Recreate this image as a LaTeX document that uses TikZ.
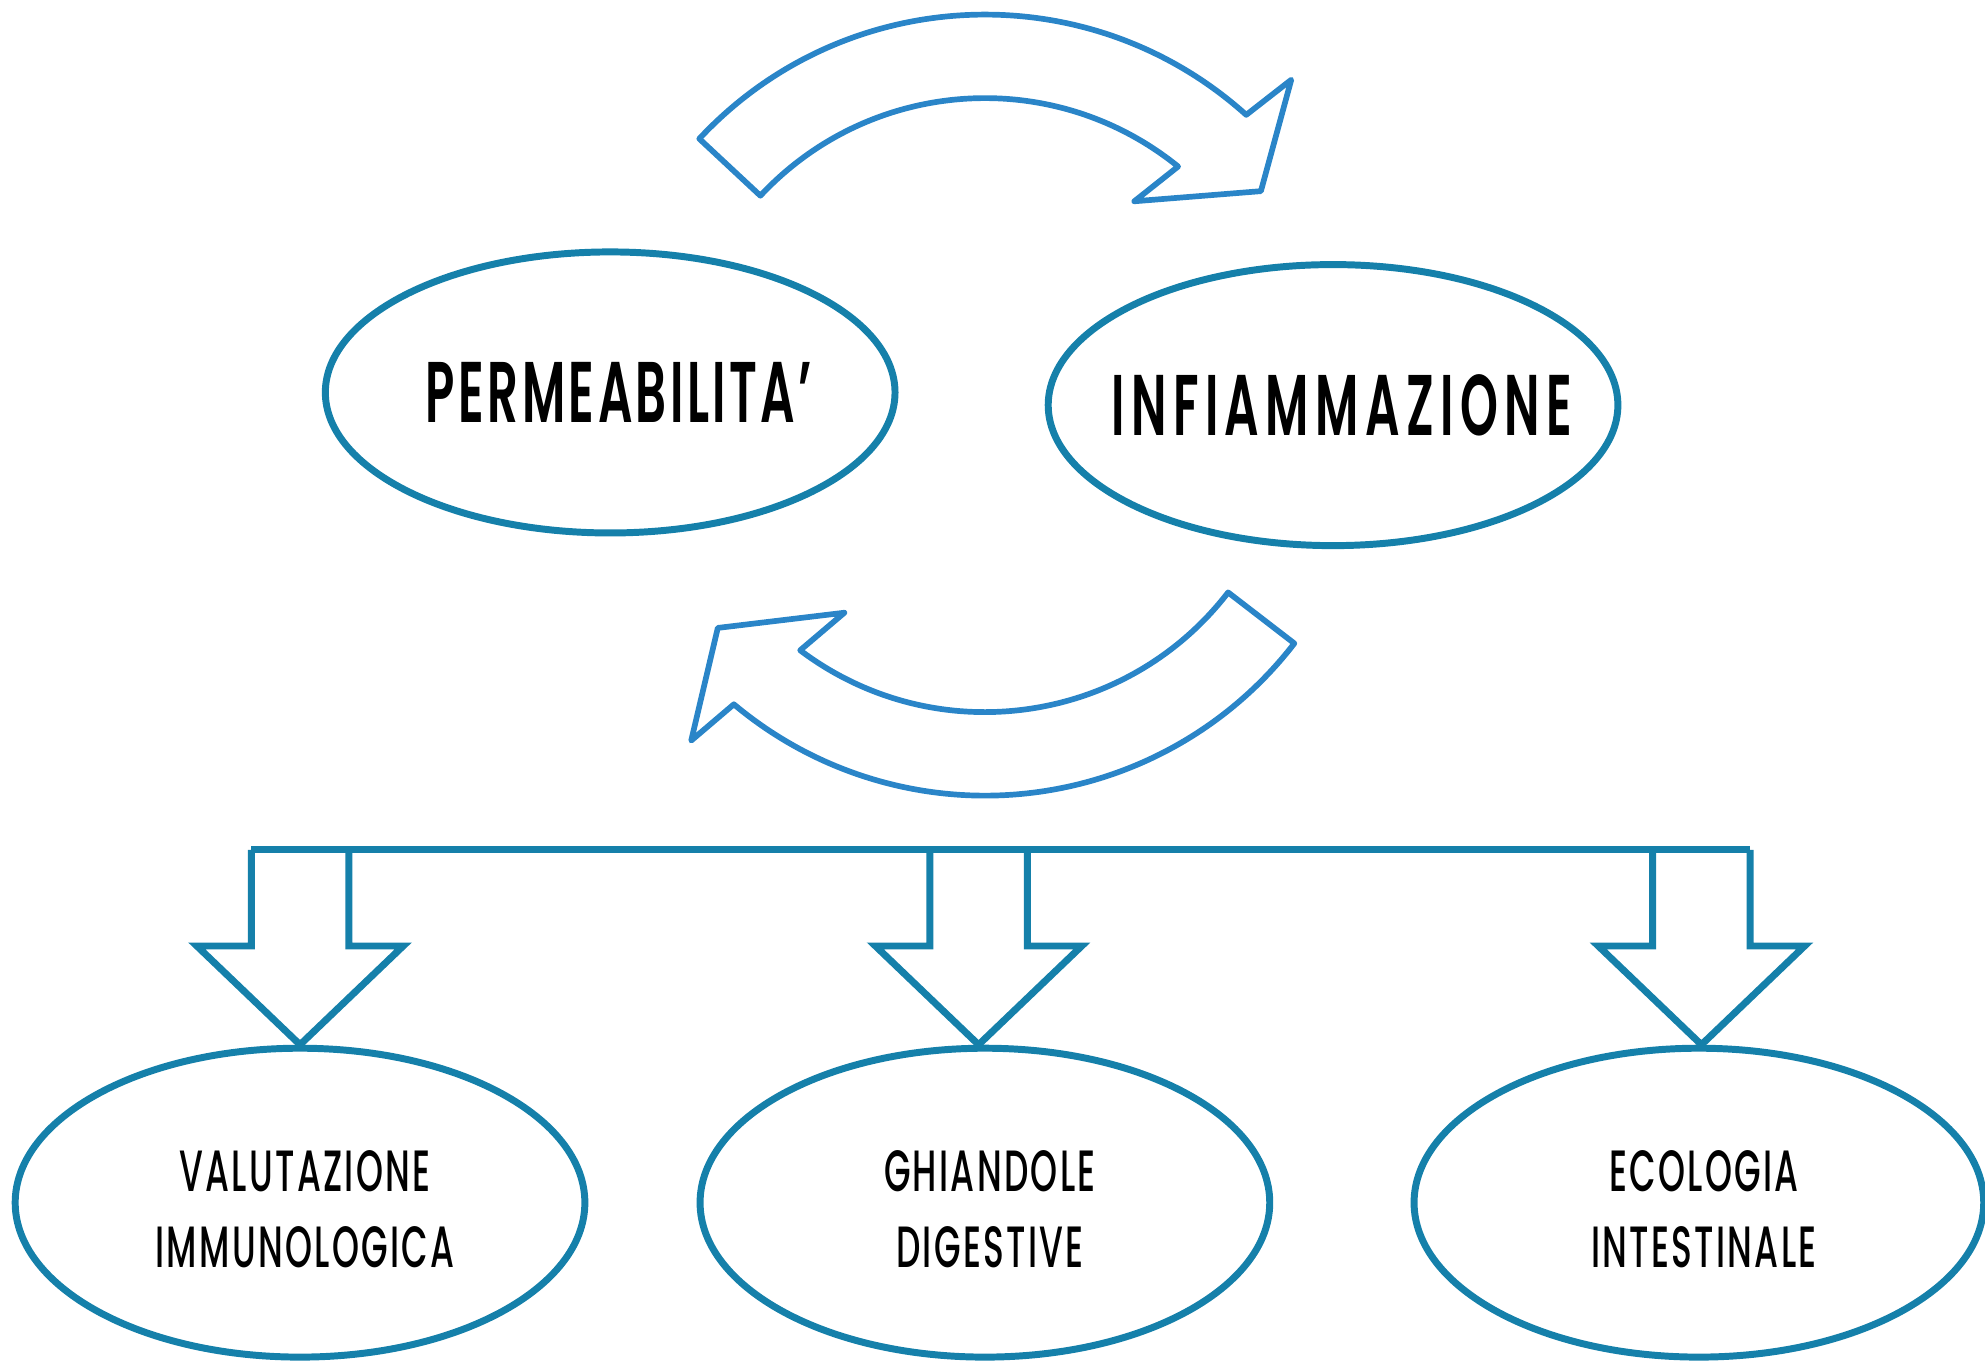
\documentclass[tikz,border=0pt]{standalone}
\usepackage{fontspec}
\usetikzlibrary{shapes.geometric,calc}
\IfFontExistsTF{Poppins SemiBold}
  {\newfontfamily\headfont[FakeStretch=0.56,LetterSpace=4]{Poppins SemiBold}}
  {\newfontfamily\headfont[FakeStretch=0.56,LetterSpace=4,FakeBold=1.5]{Poppins}}
\IfFontExistsTF{Poppins Medium}
  {\newfontfamily\leaffont[FakeStretch=0.59,LetterSpace=4]{Poppins Medium}}
  {\newfontfamily\leaffont[FakeStretch=0.59,LetterSpace=4,FakeBold=1]{Poppins}}
\definecolor{ovalblue}{HTML}{1580AA}
\definecolor{loopblue}{HTML}{2A85C8}

\begin{document}
\begin{tikzpicture}[x=1pt,y=-1pt,
  oval/.style={
    ellipse, draw=ovalblue, line width=5.5pt, inner sep=0pt,
  },
  bigoval/.style={oval, minimum width=450pt, minimum height=222pt},
  leaf/.style={oval, minimum width=450pt, minimum height=244pt},
  headtext/.style={font=\headfont\fontsize{68}{68}\selectfont, xshift=7pt},
  leaftext/.style={font=\leaffont\fontsize{46}{60}\selectfont, align=center,
    xshift=4pt, yshift=-5pt},
  loop/.style={draw=loopblue, line width=4.5pt, line join=round},
  block/.style={draw=ovalblue, line width=5.5pt}
  ]
  \useasboundingbox (0,0) rectangle (1568,1076);

  % cycle between the two top ovals
  \node[bigoval, label={[headtext]center:PERMEABILITA’}] (perm) at (482,310) {};
  \node[bigoval, label={[headtext]center:{\addfontfeature{LetterSpace=7.5}INFIAMMAZIONE}}]
    (infl) at (1053,320) {};
  \coordinate (hub) at (778,320);
  \draw[loop] ($(hub)+(-137:308.5)$) arc[start angle=-137, end angle=-48, radius=308.5]
    -- (1020,63) -- (996,151) -- (896,159)
    -- ($(hub)+(-51:242.5)$) arc[start angle=-51, end angle=-137, radius=242.5] -- cycle;
  \draw[loop] ($(hub)+(37.6:308.5)$) arc[start angle=37.6, end angle=130, radius=308.5]
    -- (546,585) -- (567,496) -- (667,484)
    -- ($(hub)+(127:242.5)$) arc[start angle=127, end angle=37.6, radius=242.5] -- cycle;

  % the three consequences
  \node[leaf, label={[leaftext]center:{VALUTAZIONE\\IMMUNOLOGICA}}] (val) at (237,950) {};
  \node[leaf, label={[leaftext]center:{GHIANDOLE\\DIGESTIVE}}] (ghi) at (778,950) {};
  \node[leaf, label={[leaftext]center:{ECOLOGIA\\INTESTINALE}}] (eco) at (1342,950) {};

  \draw[block] ($(val.north)+(-38.5,-154)$) -- ($(eco.north)+(40.5,-154)$);
  \foreach \n/\dx in {val/0,ghi/-5,eco/2}
    \draw[block] ($(\n.north)+(\dx-38.5,-154)$) -- ++(0,76) -- ++(-43,0)
      -- ($(\n.north)+(\dx,0)$) -- ($(\n.north)+(\dx+81.5,-78)$) -- ++(-43,0) -- ++(0,-76);
\end{tikzpicture}
\end{document}
